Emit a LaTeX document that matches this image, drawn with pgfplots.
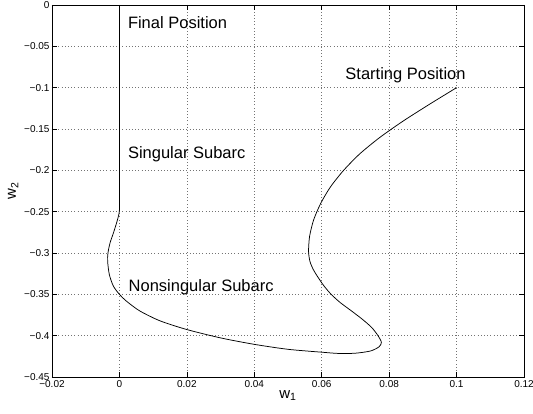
\documentclass[border=0pt]{standalone}
\usepackage{fontspec}
\setmainfont{Liberation Sans}
\usepackage{pgfplots}
\pgfplotsset{compat=1.18}

\begin{document}
\begin{tikzpicture}
\begin{axis}[
  scale only axis,
  width=472bp, height=372bp,
  xmin=-0.02, xmax=0.12,
  ymin=-0.45, ymax=0,
  xtick={-0.02,0,0.02,0.04,0.06,0.08,0.1,0.12},
  xticklabels={−0.02,0,0.02,0.04,0.06,0.08,0.1,0.12},
  ytick={-0.45,-0.4,-0.35,-0.3,-0.25,-0.2,-0.15,-0.1,-0.05,0},
  yticklabels={−0.45,−0.4,−0.35,−0.3,−0.25,−0.2,−0.15,−0.1,−0.05,0},
  tick label style={font=\fontsize{10bp}{12bp}\selectfont},
  yticklabel style={xshift=1bp},
  tick align=inside,
  major tick length=5bp,
  tick style={black, line width=0.6pt},
  axis line style={line width=0.7pt},
  grid=major,
  major grid style={black!55, line width=0.5pt, dash pattern=on 0.6bp off 2.6bp},
  xlabel={w\textsubscript{1}},
  ylabel={w\textsubscript{2}},
  label style={font=\fontsize{15bp}{17bp}\selectfont},
  xlabel style={yshift=4bp},
  ylabel style={yshift=-1bp},
  clip=false,
]
% trajectory from the starting position to the final position
\addplot[black, line width=0.75pt, smooth, tension=0.45] coordinates {
  (0.1000,-0.1000)
  (0.0920,-0.1200)
  (0.0843,-0.1400)
  (0.0773,-0.1600)
  (0.0713,-0.1800)
  (0.0665,-0.2000)
  (0.0626,-0.2200)
  (0.0597,-0.2400)
  (0.0576,-0.2600)
  (0.0564,-0.2800)
  (0.0561,-0.2980)
  (0.0565,-0.3100)
  (0.0575,-0.3200)
  (0.0590,-0.3300)
  (0.0607,-0.3400)
  (0.0628,-0.3500)
  (0.0655,-0.3600)
  (0.0688,-0.3700)
  (0.0720,-0.3800)
  (0.0748,-0.3900)
  (0.0767,-0.4000)
  (0.0777,-0.4080)
  (0.0770,-0.4135)
  (0.0745,-0.4185)
  (0.0700,-0.4212)
  (0.0650,-0.4215)
  (0.0600,-0.4200)
  (0.0500,-0.4165)
  (0.0400,-0.4105)
  (0.0300,-0.4027)
  (0.0200,-0.3926)
  (0.0120,-0.3820)
  (0.0060,-0.3700)
  (0.0020,-0.3580)
  (0.0000,-0.3500)
  (-0.0018,-0.3400)
  (-0.0030,-0.3260)
  (-0.0035,-0.3100)
  (-0.0034,-0.3000)
  (-0.0028,-0.2880)
  (-0.0018,-0.2760)
  (-0.0008,-0.2630)
  (-0.0002,-0.2540)
  (0.0000,-0.2480)
};
\addplot[black, line width=0.75pt] coordinates {(0,-0.2480) (0,0)};

\node[anchor=west, font=\fontsize{16.5bp}{18bp}\selectfont] at (axis cs:0.0015,-0.0214) {Final Position};
\node[anchor=west, font=\fontsize{16.5bp}{18bp}\selectfont] at (axis cs:0.0660,-0.0855) {Starting Position};
\node[anchor=west, font=\fontsize{16.5bp}{18bp}\selectfont] at (axis cs:0.0015,-0.1800) {Singular Subarc};
\node[anchor=west, font=\fontsize{16.5bp}{18bp}\selectfont] at (axis cs:0.0017,-0.3410) {Nonsingular Subarc};

\coordinate (ll) at (rel axis cs:0,0);
\coordinate (ur) at (rel axis cs:1,1);
\end{axis}
% page frame around the axis box
\pgfresetboundingbox
\path ([xshift=-52bp,yshift=-37bp]ll) rectangle ([xshift=9bp,yshift=5bp]ur);
\end{tikzpicture}
\end{document}
